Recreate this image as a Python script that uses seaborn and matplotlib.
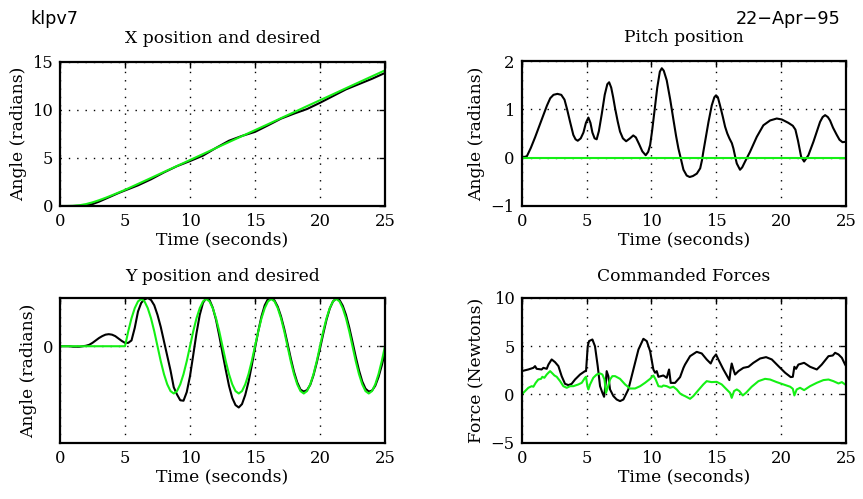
import numpy as np
import pandas as pd
import matplotlib
matplotlib.use("Agg")
import matplotlib.pyplot as plt
import seaborn as sns

# ---------------- data ----------------
# X position (top left)
x_time = [0, 0.5, 1, 1.5, 2, 2.5, 3, 3.5, 4, 4.5, 5, 6, 7, 8, 9, 10, 11, 12, 13,
          14, 15, 16, 17, 18, 19, 20, 21, 22, 23, 24, 25]
x_actual = [0, 0, 0, 0.02, 0.08, 0.2, 0.45, 0.75, 1.05, 1.35, 1.62, 2.15, 2.78, 3.5,
            4.15, 4.68, 5.25, 6.05, 6.8, 7.3, 7.72, 8.4, 9.1, 9.62, 10.1, 10.75,
            11.45, 12.15, 12.7, 13.25, 13.86]
x_desired = [0, 0, 0.02, 0.08, 0.2, 0.38, 0.6, 0.85, 1.12, 1.4, 1.68, 2.3, 2.92, 3.55,
             4.17, 4.79, 5.41, 6.04, 6.66, 7.28, 7.9, 8.52, 9.15, 9.77, 10.4, 11.02,
             11.64, 12.27, 12.89, 13.51, 14.13]

# Pitch position (top right)
pitch_time = [0.0, 0.4, 0.7, 1.03, 1.35, 1.67, 1.95, 2.2, 2.45, 2.75, 3.05, 3.3, 3.5,
              3.73, 3.98, 4.15, 4.32, 4.55, 4.76, 4.95, 5.14, 5.3, 5.45, 5.62, 5.78,
              5.95, 6.17, 6.4, 6.6, 6.74, 6.9, 7.05, 7.2, 7.4, 7.58, 7.8, 8.05, 8.35,
              8.6, 8.8, 9.05, 9.3, 9.56, 9.75, 9.9, 10.05, 10.23, 10.45, 10.65, 10.8,
              10.95, 11.18, 11.45, 11.7, 11.9, 12.08, 12.25, 12.47, 12.72, 12.95, 13.2,
              13.5, 13.76, 13.9, 14.0, 14.2, 14.4, 14.65, 14.85, 14.98, 15.12, 15.29,
              15.5, 15.68, 15.85, 16.01, 16.2, 16.32, 16.45, 16.58, 16.83, 17.0, 17.22,
              17.6, 18.12, 18.63, 19.15, 19.66, 20.05, 20.56, 20.9, 21.1, 21.3, 21.54,
              21.77, 22.1, 22.49, 23.0, 23.2, 23.39, 23.6, 23.77, 24.0, 24.29, 24.5,
              24.73, 25.0]
pitch_actual = [0.0, 0.03, 0.2, 0.42, 0.65, 0.88, 1.08, 1.23, 1.30, 1.32, 1.30, 1.2, 1.0,
                0.74, 0.47, 0.38, 0.35, 0.4, 0.52, 0.72, 0.83, 0.72, 0.52, 0.40, 0.38,
                0.55, 0.9, 1.3, 1.52, 1.56, 1.45, 1.25, 1.02, 0.75, 0.54, 0.40, 0.34, 0.40,
                0.46, 0.42, 0.28, 0.13, 0.05, 0.12, 0.26, 0.55, 0.95, 1.45, 1.78, 1.85,
                1.8, 1.6, 1.2, 0.78, 0.45, 0.19, 0.0, -0.25, -0.37, -0.40, -0.38,
                -0.33, -0.22, -0.05, 0.12, 0.43, 0.74, 1.08, 1.25, 1.29, 1.25, 1.08,
                0.85, 0.64, 0.50, 0.40, 0.3, 0.19, 0.03, -0.12, -0.25, -0.2, -0.08,
                0.12, 0.43, 0.67, 0.77, 0.81, 0.79, 0.72, 0.66, 0.58, 0.35, 0.02,
                -0.08, 0.05, 0.33, 0.74, 0.84, 0.88, 0.84, 0.77, 0.62, 0.47, 0.37,
                0.32, 0.33]
pitch_desired_time = [0, 25]
pitch_desired = [0, 0]

# Y position (bottom left), sampled every 0.25 s
y_time = np.arange(0, 25.001, 0.25)
y_actual = [0, 0, 0, 0,
            -0.01, -0.01, -0.01, 0.0,
            0.01, 0.03, 0.07, 0.12,
            0.17, 0.21, 0.24, 0.25,
            0.24, 0.21, 0.16, 0.11,
            0.07, 0.07, 0.12, 0.38,
            0.72, 0.90, 0.97, 1.0,
            0.96, 0.85, 0.65, 0.40,
            0.10, -0.20, -0.50, -0.85,
            -1.0, -1.12, -1.13, -0.95,
            -0.62, -0.18, 0.27, 0.65,
            0.90, 1.0, 0.96, 0.80,
            0.55, 0.22, -0.14, -0.49,
            -0.82, -1.07, -1.22, -1.27,
            -1.20, -1.01, -0.74, -0.40,
            -0.04, 0.31, 0.62, 0.85,
            0.98, 0.99, 0.95, 0.82,
            0.62, 0.36, 0.06, -0.25,
            -0.53, -0.75, -0.90, -0.94,
            -0.91, -0.80, -0.60, -0.34,
            -0.05, 0.26, 0.55, 0.78,
            0.93, 0.99, 0.96, 0.84,
            0.65, 0.39, 0.09, -0.22,
            -0.50, -0.73, -0.88, -0.94,
            -0.92, -0.82, -0.64, -0.40,
            -0.12]
y_desired = [0, 0, 0, 0, 0, 0, 0, 0, 0, 0, 0, 0, 0, 0, 0, 0, 0, 0, 0, 0,
             0, 0.31, 0.58, 0.79, 0.93, 0.98, 0.93, 0.79, 0.58, 0.31,
             0, -0.31, -0.58, -0.79, -0.93, -0.98, -0.93, -0.79, -0.58, -0.31,
             0, 0.31, 0.58, 0.79, 0.93, 0.98, 0.93, 0.79, 0.58, 0.31,
             0, -0.31, -0.58, -0.79, -0.93, -0.98, -0.93, -0.79, -0.58, -0.31,
             0, 0.31, 0.58, 0.79, 0.93, 0.98, 0.93, 0.79, 0.58, 0.31,
             0, -0.31, -0.58, -0.79, -0.93, -0.98, -0.93, -0.79, -0.58, -0.31,
             0, 0.31, 0.58, 0.79, 0.93, 0.98, 0.93, 0.79, 0.58, 0.31,
             0, -0.31, -0.58, -0.79, -0.93, -0.98, -0.93, -0.79, -0.58, -0.31,
             0]

# Commanded forces (bottom right)
force1_time = [0.0, 0.51, 0.9, 1.03, 1.15, 1.54, 1.67, 1.93, 2.06, 2.31, 2.57, 2.83,
               3.08, 3.34, 3.6, 3.85, 4.11, 4.5, 4.88, 4.96, 5.09, 5.19, 5.45, 5.65,
               5.86, 6.04, 6.22, 6.35, 6.48, 6.55, 6.68, 6.81, 7.07, 7.32, 7.58, 7.84,
               8.22, 8.61, 9.0, 9.38, 9.64, 9.9, 10.15, 10.28, 10.41, 10.54, 10.92,
               11.18, 11.36, 11.49, 11.82, 12.21, 12.47, 12.59, 12.98, 13.49, 13.88,
               14.26, 14.57, 14.77, 14.98, 15.16, 15.55, 15.81, 16.01, 16.11, 16.19,
               16.32, 16.45, 16.71, 17.09, 17.48, 17.86, 18.38, 18.84, 19.28, 19.79,
               20.31, 20.74, 20.9, 21.02, 21.15, 21.33, 21.77, 22.23, 22.75, 23.13,
               23.65, 23.98, 24.16, 24.42, 24.68, 24.93, 25.0]
force1 = [2.42, 2.59, 2.76, 2.94, 2.66, 2.59, 2.76, 2.66, 3.1, 3.63, 3.35, 2.94,
          1.9, 1.1, 0.97, 1.1, 1.55, 2.07, 2.42, 2.42, 5.0, 5.53, 5.7, 5.0,
          2.94, 0.86, 0.17, -0.24, 1.2, 2.42, 1.9, 0.52, -0.17, -0.52, -0.69, -0.52,
          0.52, 2.59, 4.66, 5.77, 5.53, 4.49, 2.59, 2.25, 2.42, 1.83, 1.97,
          1.73, 2.59, 1.2, 1.2, 1.8, 2.76, 3.1, 3.97, 4.42, 4.25,
          3.63, 3.21, 3.8, 4.15, 3.63, 2.59, 1.97, 1.49, 2.59, 3.21,
          2.59, 2.07, 2.42, 2.76, 2.87, 3.28, 3.73, 3.87, 3.63, 2.94,
          2.25, 1.8, 1.83, 2.87, 2.66, 3.1, 3.28, 2.87, 2.59, 3.1,
          3.97, 4.04, 4.32, 4.15, 3.8, 3.1, 2.95]
force2_time = [0.0, 0.26, 0.51, 0.77, 0.9, 1.08, 1.28, 1.49, 1.59, 1.75, 1.93, 2.06, 2.19,
               2.37, 2.52, 2.7, 2.96, 3.21, 3.47, 3.73, 3.98, 4.37, 4.63, 4.88, 4.96,
               5.06, 5.14, 5.27, 5.52, 5.78, 6.04, 6.22, 6.38, 6.5, 6.63, 6.81, 6.99,
               7.2, 7.58, 7.97, 8.35, 8.74, 9.13, 9.51, 9.9, 10.15, 10.33, 10.54, 10.8,
               10.92, 11.18, 11.44, 11.69, 11.95, 12.21, 12.47, 12.59, 12.98, 13.23,
               13.62, 14.0, 14.26, 14.64, 15.03, 15.42, 15.8, 16.06, 16.19, 16.37,
               16.58, 16.78, 17.04, 17.29, 17.73, 18.25, 18.76, 19.15, 19.66, 20.18,
               20.7, 20.9, 21.02, 21.2, 21.46, 21.77, 22.23, 22.75, 23.26, 23.65,
               24.03, 24.42, 24.68, 24.93, 25.0]
force2 = [0.0, 0.35, 0.69, 0.86, 0.8, 1.21, 1.55, 1.62, 1.83, 1.73, 2.07, 2.25, 2.42,
          2.18, 1.97, 1.83, 1.38, 0.86, 0.69, 0.86, 0.86, 1.04, 1.21, 1.73, 1.83,
          0.86, 0.52, 1.04, 1.73, 2.07, 2.18, 2.07, 1.55, 0.17, 0.69, 1.55, 1.9,
          1.9, 1.62, 1.04, 0.62, 0.62, 0.86, 1.21, 1.62, 1.97, 1.55, 0.86, 0.8,
          0.93, 0.86, 0.69, 0.8, 0.52, 0.1, -0.1, -0.17, -0.45, -0.17,
          0.45, 1.04, 1.38, 1.28, 1.31, 1.04, 0.52, 0.17, -0.35, 0.35,
          0.52, 0.35, -0.1, 0.17, 0.8, 1.38, 1.62, 1.55, 1.28, 1.04,
          0.8, 0.59, -0.1, 0.52, 0.69, 0.45, 0.86, 1.21, 1.49, 1.55,
          1.38, 1.14, 1.28, 1.04, 1.1]

# ---------------- style ----------------
sns.set_style("white")
plt.rcParams["font.family"] = ["DejaVu Serif"]
plt.rcParams["axes.axisbelow"] = True
plt.rcParams["text.color"] = "black"
plt.rcParams["axes.labelcolor"] = "black"
plt.rcParams["axes.titlecolor"] = "black"

BLACK = "black"
GREEN = "#14f014"
XTICKS = [0, 5, 10, 15, 20, 25]
LABEL_FS = 12.3

fig = plt.figure(figsize=(8.63, 4.99), dpi=100)
W, H = 863.0, 499.0


def make_ax(left, top, right, bottom):
    return fig.add_axes([left / W, 1 - bottom / H, (right - left) / W, (bottom - top) / H])


def draw(ax, t1, v1, t2, v2):
    d1 = pd.DataFrame({"t": t1, "v": v1})
    d2 = pd.DataFrame({"t": t2, "v": v2})
    sns.lineplot(data=d1, x="t", y="v", ax=ax, color=BLACK, linewidth=1.5,
                 sort=False, estimator=None)
    sns.lineplot(data=d2, x="t", y="v", ax=ax, color=GREEN, linewidth=1.5,
                 sort=False, estimator=None)


def style(ax, ylim, yticks, title, ylabel, pad):
    ax.set_xlim(0, 25)
    ax.set_ylim(*ylim)
    ax.set_xticks(XTICKS)
    ax.set_yticks(yticks)
    ax.grid(True, color="black", linestyle=(0, (1, 5)), linewidth=1.0)
    ax.tick_params(direction="in", length=4, width=1, top=True, right=True,
                   labelsize=11.8, pad=5, colors="black")
    for s in ax.spines.values():
        s.set_visible(True)
        s.set_linewidth(1.6)
        s.set_color("black")
    ax.set_title(title, fontsize=LABEL_FS, pad=pad, color="black")
    ax.set_xlabel("Time (seconds)", fontsize=LABEL_FS, labelpad=1, color="black")
    ax.set_ylabel(ylabel, fontsize=LABEL_FS, labelpad=4, color="black")


ax1 = make_ax(60, 62, 385, 206)
draw(ax1, x_time, x_actual, x_time, x_desired)
style(ax1, (0, 15), [0, 5, 10, 15], "X position and desired", "Angle (radians)", 13.5)

ax2 = make_ax(521.7, 61, 846, 206)
draw(ax2, pitch_time, pitch_actual, pitch_desired_time, pitch_desired)
style(ax2, (-1, 2), [-1, 0, 1, 2], "Pitch position", "Angle (radians)", 13.5)

ax3 = make_ax(60, 298, 385, 442.7)
draw(ax3, y_time, y_actual, y_time, y_desired)
style(ax3, (-2, 1), [0], "Y position and desired", "Angle (radians)", 12.5)

ax4 = make_ax(521.7, 298, 846, 442.7)
draw(ax4, force1_time, force1, force2_time, force2)
style(ax4, (-5, 10), [-5, 0, 5, 10], "Commanded Forces", "Force (Newtons)", 12.5)

fig.text(30 / W, 1 - 24.5 / H, "klpv7", family="DejaVu Sans", fontsize=12.7,
         ha="left", va="baseline", color="black")
fig.text(840.7 / W, 1 - 24.5 / H, "22\u2212Apr\u221295", family="DejaVu Sans",
         fontsize=12.7, ha="right", va="baseline", color="black")

fig.savefig("out.png", dpi=100)
